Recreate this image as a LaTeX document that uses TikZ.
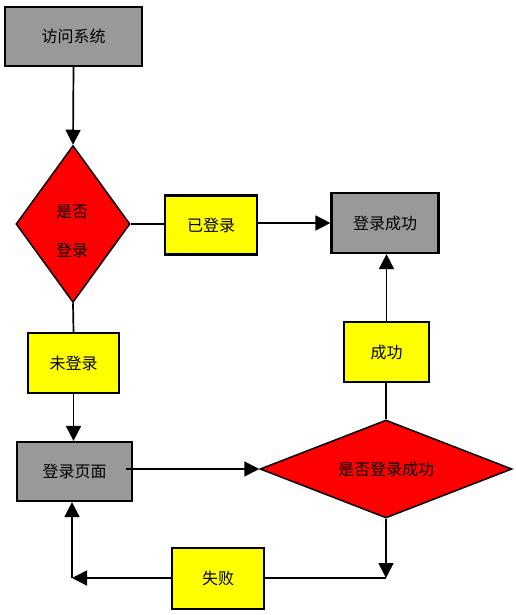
\documentclass[tikz,border=0pt]{standalone}
\usepackage{fontspec}
\newfontfamily\cjk{Noto Sans CJK SC}
\usetikzlibrary{shapes.geometric,arrows.meta}
\definecolor{boxgray}{RGB}{153,153,153}
\definecolor{dred}{RGB}{255,0,0}
\definecolor{lyellow}{RGB}{255,255,0}
\tikzset{
  cjktext/.style={font=\cjk\fontsize{16}{19}\selectfont, text=black},
  base/.style={draw=black, line width=2.2pt, inner sep=0pt, cjktext},
  graybox/.style={base, fill=boxgray, rectangle},
  yellowbox/.style={base, fill=lyellow, rectangle},
  decision/.style={base, fill=dred, diamond, line width=1.5pt, inner sep=0pt, aspect=1},
  conn/.style={line width=1.7pt, draw=black},
  arr/.style={conn, -{Triangle[length=15pt,width=15pt]}},
}
\begin{document}
\begin{tikzpicture}[x=1pt,y=-1pt]
\useasboundingbox[fill=white] (0,0) rectangle (516,615);
\node[graybox, minimum width=137pt, minimum height=59pt] (visit) at (73.5,36.5) {访问系统};
\node[decision, minimum width=114pt, minimum height=157pt] (d1) at (73,224) {};
\node[cjktext] (d1t) at (72,212) {是否};
\node[cjktext] (d1b) at (72,250) {登录};
\node[yellowbox, minimum width=92pt, minimum height=59pt] (yes) at (211,225) {已登录};
\node[graybox, minimum width=107pt, minimum height=60pt] (ok) at (385,223) {登录成功};
\node[yellowbox, minimum width=91pt, minimum height=60pt] (no) at (73.5,363) {未登录};
\node[graybox, minimum width=115pt, minimum height=59pt] (page) at (74.5,471.5) {登录页面};
\node[decision, aspect=2.5, minimum width=252pt, minimum height=98pt] (d2) at (386,469) {是否登录成功};
\node[yellowbox, minimum width=85pt, minimum height=60pt] (succ) at (386.5,352) {成功};
\node[yellowbox, minimum width=92pt, minimum height=61pt] (fail) at (218,578.5) {失败};
\coordinate (c1) at (386,578);
\coordinate (c2) at (72,578);

\draw[arr] (visit.south) -- (d1.north);
\draw[conn] (d1.east) -- (d1.east -| yes.west);
\draw[arr] (yes.east |- ok.west) -- (ok.west);
\draw[conn] (d1.south) -- (no.north);
\draw[arr] (no.south) -- (no.south |- page.north);
\draw[arr] ([xshift=-7pt]page.east |- d2.west) -- (d2.west);
\draw[conn] (d2.north) -- (d2.north |- succ.south);
\draw[arr] (succ.north) -- (succ.north |- ok.south);
\draw[arr] (d2.south) -- (c1);
\draw[conn] (c1) -- (fail.east |- c1);
\draw[arr] (fail.west |- c2) -- (c2);
\draw[arr] (c2) -- (c2 |- page.south);
\end{tikzpicture}
\end{document}
